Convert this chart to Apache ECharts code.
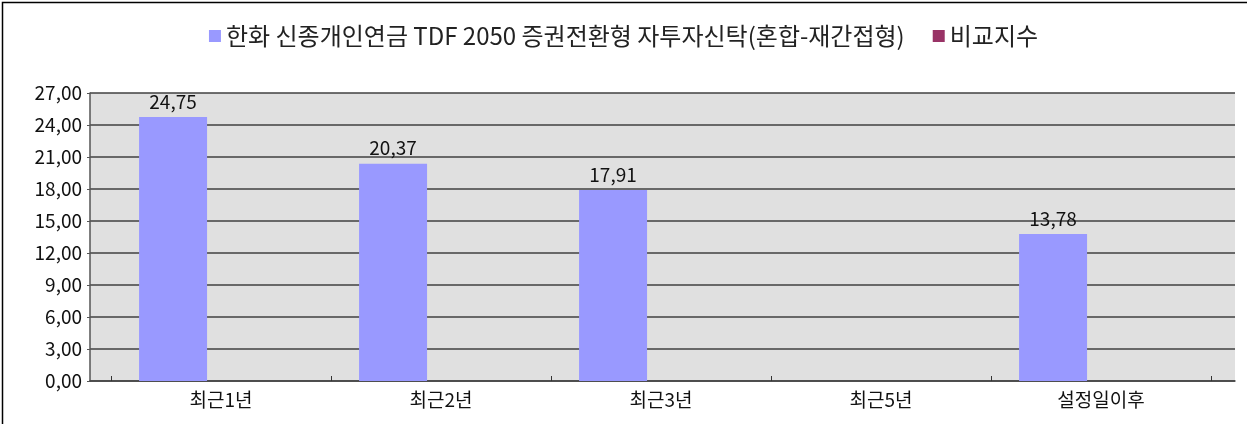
<!DOCTYPE html>
<html>
<head>
	<meta charset="UTF-8">
	<title>TDF 2050 수익률</title>
	<script src="https://cdn.jsdelivr.net/npm/echarts@6/dist/echarts.min.js"></script>
	<style>
		html, body { margin: 0; padding: 0; background: #fff; }
		#main { width: 1247px; height: 424px; }
	</style>
</head>
<body>
<div id="main"></div>
<script type="text/javascript">
	// 기간 구분
	var categories = ['최근1년', '최근2년', '최근3년', '최근5년', '설정일이후'];
	// 펀드 수익률 (최근5년은 값 없음)
	var fundValues = [24.75, 20.37, 17.91, null, 13.78];
	// 비교지수 (값 없음)
	var indexValues = [null, null, null, null, null];
	var seriesNames = ['한화 신종개인연금 TDF 2050 증권전환형 자투자신탁(혼합-재간접형)', '비교지수'];
	var yMin = 0, yMax = 27, yStep = 3;

	var font = '"Noto Sans CJK KR", "Noto Sans", sans-serif';
	function fmt(v) {
		return Number(v).toFixed(2).replace('.', ',');
	}

	var myChart = echarts.init(document.getElementById('main'));
	var option = {
		animation: false,
		color: ['#9999ff', '#993366'],
		textStyle: { fontFamily: font },
		legend: {
			top: 19,
			left: 'center',
			icon: 'rect',
			itemWidth: 12,
			itemHeight: 12,
			itemGap: 28,
			textStyle: { fontSize: 24, color: '#222', fontFamily: font },
			data: seriesNames
		},
		graphic: [{
			type: 'rect',
			shape: { x: 2.5, y: 2.5, width: 1260, height: 440 },
			style: { fill: 'none', stroke: '#000', lineWidth: 1.5 },
			silent: true
		}],
		grid: [
			// 배경 + 눈금선 영역
			{ left: 90, right: 12, top: 93, bottom: 43, show: true, backgroundColor: '#e0e0e0', borderWidth: 0 },
			// 막대 영역
			{ left: 111, right: 36, top: 93, bottom: 43 }
		],
		xAxis: [{
			type: 'value',
			gridIndex: 0,
			min: 0, max: 1,
			axisLine: { show: true, lineStyle: { color: '#444', width: 1.5 } },
			axisTick: { show: false },
			axisLabel: { show: false },
			splitLine: { show: false }
		}, {
			type: 'category',
			gridIndex: 1,
			data: categories,
			axisLine: { show: false },
			axisTick: { show: true, inside: true, length: 5, lineStyle: { color: '#333' } },
			axisLabel: { fontSize: 19, color: '#111', margin: 9, fontFamily: font }
		}],
		yAxis: [{
			type: 'value',
			gridIndex: 0,
			min: yMin, max: yMax, interval: yStep,
			axisLine: { show: true, lineStyle: { color: '#555', width: 1.5 } },
			axisTick: { show: true, length: 3, lineStyle: { color: '#555' } },
			axisLabel: { fontSize: 19, color: '#111', margin: 8, formatter: fmt, fontFamily: font },
			splitLine: { show: true, lineStyle: { color: '#404040', width: 1.5 } }
		}, {
			type: 'value',
			gridIndex: 1,
			min: yMin, max: yMax, interval: yStep,
			show: false,
			splitLine: { show: false }
		}],
		series: [{
			name: seriesNames[0],
			type: 'bar',
			xAxisIndex: 1,
			yAxisIndex: 1,
			barWidth: 68,
			barGap: '41%',
			data: fundValues,
			label: {
				show: true,
				position: 'top',
				distance: 6,
				fontSize: 19,
				color: '#111',
				fontFamily: font,
				formatter: function (p) { return fmt(p.value); }
			}
		}, {
			name: seriesNames[1],
			type: 'bar',
			xAxisIndex: 1,
			yAxisIndex: 1,
			barWidth: 68,
			barGap: '41%',
			data: indexValues
		}]
	};
	myChart.setOption(option);
</script>
</body>
</html>
